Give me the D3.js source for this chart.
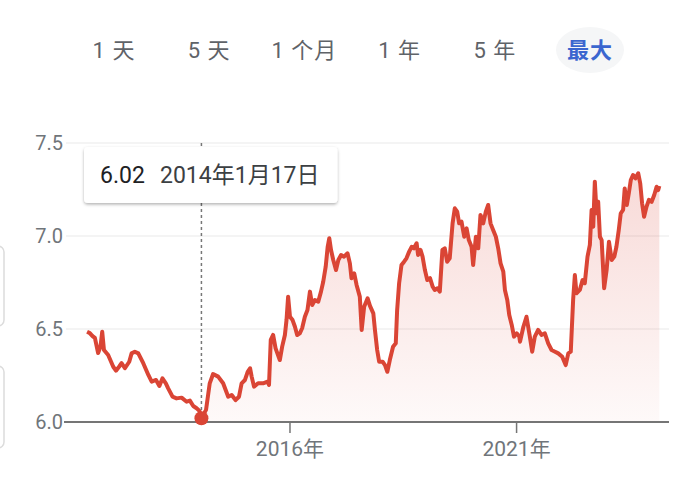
<!DOCTYPE html>
<meta charset="utf-8">
<script src="https://d3js.org/d3.v7.min.js"></script>
<style>
  body { margin: 0; background: #fff; }
  svg { display: block; font-family: Roboto, Arial, "Noto Sans CJK SC", sans-serif; }
</style>
<svg id="vis"></svg>
<script>
    // range buttons
    const tabs = ['1 天', '5 天', '1 个月', '1 年', '5 年', '最大'];
    const activeTab = '最大';

    // USD/CNY
    const dates = [
        '2011-07-10', '2011-08-01', '2011-08-23', '2011-09-11', '2011-10-07', '2011-10-26', '2011-11-09', '2011-11-23',
        '2011-12-27', '2012-02-06', '2012-02-28', '2012-03-24', '2012-04-13', '2012-05-10', '2012-06-14', '2012-07-03',
        '2012-07-29', '2012-08-26', '2012-10-05', '2012-11-15', '2012-12-12', '2013-01-16', '2013-02-12', '2013-03-09',
        '2013-04-05', '2013-04-24', '2013-05-29', '2013-06-30', '2013-08-10', '2013-09-20', '2013-10-16', '2013-11-12',
        '2013-12-09', '2013-12-31', '2014-01-17', '2014-02-23', '2014-03-25', '2014-04-21', '2014-06-01', '2014-07-11',
        '2014-08-21', '2014-09-18', '2014-10-19', '2014-11-16', '2014-12-07', '2015-01-03', '2015-01-25', '2015-02-13',
        '2015-02-26', '2015-03-17', '2015-04-19', '2015-05-29', '2015-07-04', '2015-07-16', '2015-07-30', '2015-08-18',
        '2015-09-07', '2015-10-11', '2015-10-30', '2015-11-21', '2015-12-04', '2015-12-17', '2016-01-01', '2016-01-22',
        '2016-02-10', '2016-02-28', '2016-03-20', '2016-04-08', '2016-04-30', '2016-05-21', '2016-06-10', '2016-06-28',
        '2016-07-20', '2016-08-16', '2016-09-07', '2016-09-25', '2016-10-15', '2016-10-31', '2016-11-13', '2016-11-27',
        '2016-12-15', '2017-01-06', '2017-01-25', '2017-02-16', '2017-03-12', '2017-04-09', '2017-04-28', '2017-05-11',
        '2017-06-02', '2017-06-21', '2017-07-17', '2017-08-01', '2017-08-21', '2017-09-18', '2017-10-07', '2017-11-03',
        '2017-11-16', '2017-12-04', '2017-12-20', '2018-01-17', '2018-02-05', '2018-02-24', '2018-03-16', '2018-04-11',
        '2018-05-03', '2018-05-14', '2018-05-30', '2018-06-18', '2018-07-09', '2018-07-28', '2018-08-19', '2018-09-08',
        '2018-09-26', '2018-10-18', '2018-10-30', '2018-11-19', '2018-12-05', '2018-12-24', '2019-01-12', '2019-02-03',
        '2019-02-25', '2019-03-13', '2019-04-04', '2019-04-23', '2019-05-14', '2019-06-02', '2019-06-21', '2019-07-12',
        '2019-08-04', '2019-08-22', '2019-09-10', '2019-09-26', '2019-10-15', '2019-11-06', '2019-11-25', '2019-12-13',
        '2020-01-04', '2020-01-17', '2020-02-08', '2020-02-27', '2020-03-16', '2020-04-07', '2020-04-28', '2020-05-17',
        '2020-06-05', '2020-06-26', '2020-07-18', '2020-08-06', '2020-08-25', '2020-09-16', '2020-09-29', '2020-10-18',
        '2020-11-03', '2020-11-23', '2020-12-11', '2021-01-02', '2021-01-23', '2021-01-29', '2021-02-25', '2021-03-22',
        '2021-04-18', '2021-05-07', '2021-05-28', '2021-06-24', '2021-07-21', '2021-08-17', '2021-09-13', '2021-10-10',
        '2021-11-07', '2021-12-03', '2022-01-04', '2022-02-01', '2022-02-22', '2022-03-14', '2022-04-02', '2022-04-16',
        '2022-04-29', '2022-05-26', '2022-06-17', '2022-07-05', '2022-07-27', '2022-08-15', '2022-08-29', '2022-09-11',
        '2022-09-24', '2022-10-08', '2022-10-21', '2022-11-04', '2022-11-18', '2022-12-08', '2022-12-28', '2023-01-16',
        '2023-02-07', '2023-02-28', '2023-03-17', '2023-04-05', '2023-04-21', '2023-05-10', '2023-05-23', '2023-06-09',
        '2023-06-25', '2023-07-11', '2023-07-29', '2023-08-18', '2023-09-09', '2023-09-25', '2023-10-10', '2023-10-26',
        '2023-11-15', '2023-12-04', '2023-12-26', '2024-01-16', '2024-02-04', '2024-02-17', '2024-02-26'
    ];
    const rates = [
        6.485, 6.478, 6.462, 6.452, 6.371, 6.405, 6.485, 6.387,
        6.360, 6.297, 6.276, 6.297, 6.316, 6.289, 6.324, 6.369,
        6.378, 6.369, 6.316, 6.253, 6.217, 6.226, 6.194, 6.235,
        6.208, 6.181, 6.136, 6.127, 6.131, 6.109, 6.115, 6.086,
        6.074, 6.061, 6.02, 6.065, 6.208, 6.258, 6.244, 6.208,
        6.136, 6.145, 6.118, 6.136, 6.208, 6.226, 6.270, 6.289,
        6.244, 6.190, 6.208, 6.208, 6.217, 6.199, 6.441, 6.468,
        6.396, 6.333, 6.405, 6.468, 6.548, 6.674, 6.566, 6.548,
        6.512, 6.468, 6.477, 6.504, 6.566, 6.602, 6.701, 6.629,
        6.656, 6.647, 6.701, 6.754, 6.835, 6.942, 6.988, 6.925,
        6.871, 6.817, 6.871, 6.898, 6.889, 6.907, 6.853, 6.773,
        6.799, 6.737, 6.674, 6.495, 6.620, 6.665, 6.624, 6.584,
        6.495, 6.387, 6.324, 6.324, 6.306, 6.270, 6.333, 6.405,
        6.423, 6.602, 6.746, 6.844, 6.862, 6.880, 6.916, 6.942,
        6.934, 6.961, 6.898, 6.925, 6.889, 6.817, 6.763, 6.773,
        6.727, 6.710, 6.719, 6.701, 6.925, 6.934, 6.862, 6.880,
        7.068, 7.149, 7.131, 7.068, 7.077, 6.996, 7.041, 6.978,
        6.942, 6.844, 6.996, 6.934, 7.113, 7.068, 7.131, 7.167,
        7.068, 7.032, 6.996, 6.934, 6.853, 6.808, 6.710, 6.656,
        6.575, 6.522, 6.459, 6.477, 6.459, 6.432, 6.512, 6.566,
        6.459, 6.378, 6.459, 6.495, 6.468, 6.477, 6.423, 6.387,
        6.378, 6.369, 6.351, 6.306, 6.369, 6.378, 6.656, 6.790,
        6.692, 6.710, 6.763, 6.746, 6.889, 6.952, 7.140, 7.050,
        7.292, 7.122, 7.184, 6.996, 6.978, 6.719, 6.817, 6.969,
        6.871, 6.889, 6.942, 7.032, 7.122, 7.140, 7.256, 7.167,
        7.230, 7.301, 7.328, 7.310, 7.337, 7.283, 7.176, 7.104,
        7.158, 7.194, 7.184, 7.220, 7.265, 7.247, 7.269
    ];

    // highlighted point
    const hoverDate = '2014-01-17';
    const hoverLabel = '2014年1月17日';

    const yTicks = [6.0, 6.5, 7.0, 7.5];
    const xTickDates = ['2016-01-01', '2021-01-01'];
    const xTickLabels = ['2016年', '2021年'];

    const width = 696, height = 488;
    const parse = d3.timeParse('%Y-%m-%d');
    const data = dates.map((d, i) => ({date: parse(d), value: rates[i]}));
    const hoverIdx = dates.indexOf(hoverDate);
    const hover = data[hoverIdx];

    const svg = d3.select('#vis')
        .attr('width', width)
        .attr('height', height);

    // faint card edges on the left
    svg.append('rect').attr('x', -20).attr('y', 246).attr('width', 24).attr('height', 80)
        .attr('rx', 6).attr('fill', 'none').attr('stroke', '#dcdcdc').attr('stroke-width', 1.5);
    svg.append('rect').attr('x', -20).attr('y', 366).attr('width', 24).attr('height', 82)
        .attr('rx', 6).attr('fill', 'none').attr('stroke', '#dcdcdc').attr('stroke-width', 1.5);

    // tabs
    const tabX = d3.scalePoint().domain(tabs).range([114, 590]);
    svg.append('ellipse')
        .attr('cx', tabX(activeTab)).attr('cy', 50)
        .attr('rx', 34).attr('ry', 23)
        .attr('fill', '#f5f6f7');
    svg.append('g').selectAll('text')
        .data(tabs)
        .enter()
        .append('text')
        .attr('x', d => tabX(d))
        .attr('y', 58)
        .attr('text-anchor', 'middle')
        .style('font-size', '22px')
        .style('font-weight', d => d === activeTab ? 'bold' : 'normal')
        .style('fill', d => d === activeTab ? '#3b66cf' : '#5f6368')
        .style('letter-spacing', '1px')
        .text(d => d);

    // scales
    const x = d3.scaleTime()
        .domain([new Date(2011, 0, 13), new Date(2024, 4, 14)])
        .range([65, 669]);
    const y = d3.scaleLinear()
        .domain([6.0, 7.5])
        .range([422, 143]);

    // grid lines
    svg.append('g').selectAll('line')
        .data(yTicks.slice(1))
        .enter()
        .append('line')
        .attr('x1', 66).attr('x2', 669)
        .attr('y1', d => y(d)).attr('y2', d => y(d))
        .style('stroke', '#f0f0f0')
        .style('stroke-width', 1.5);

    // y labels
    svg.append('g').selectAll('text')
        .data(yTicks)
        .enter()
        .append('text')
        .attr('x', 63)
        .attr('y', d => y(d) + 7)
        .attr('text-anchor', 'end')
        .style('font-size', '20px')
        .style('fill', '#70757a')
        .text(d => d.toFixed(1));

    // area gradient
    const defs = svg.append('defs');
    const grad = defs.append('linearGradient')
        .attr('id', 'fade')
        .attr('gradientUnits', 'userSpaceOnUse')
        .attr('x1', 0).attr('x2', 0)
        .attr('y1', y(7.35)).attr('y2', y(6.0));
    grad.append('stop').attr('offset', 0).attr('stop-color', '#db4437').attr('stop-opacity', 0.2);
    grad.append('stop').attr('offset', 1).attr('stop-color', '#db4437').attr('stop-opacity', 0.03);

    const shadow = defs.append('filter').attr('id', 'shadow')
        .attr('x', -0.1).attr('y', -0.2).attr('width', 1.2).attr('height', 1.5);
    shadow.append('feDropShadow')
        .attr('dx', 0).attr('dy', 1.5).attr('stdDeviation', 1.8)
        .attr('flood-color', '#000').attr('flood-opacity', 0.3);

    const area = d3.area()
        .x(d => x(d.date))
        .y0(y(6.0))
        .y1(d => y(d.value));
    svg.append('path')
        .datum(data.slice(hoverIdx))
        .attr('d', area)
        .style('fill', 'url(#fade)');

    // x axis
    svg.append('line')
        .attr('x1', 64).attr('x2', 669)
        .attr('y1', y(6.0)).attr('y2', y(6.0))
        .style('stroke', '#757575')
        .style('stroke-width', 2);
    const xt = svg.append('g').selectAll('g')
        .data(xTickDates)
        .enter()
        .append('g')
        .attr('transform', d => 'translate(' + x(parse(d)) + ',0)');
    xt.append('line')
        .attr('y1', y(6.0)).attr('y2', y(6.0) + 11)
        .style('stroke', '#757575')
        .style('stroke-width', 1.5);
    xt.append('text')
        .attr('y', 456)
        .attr('text-anchor', 'middle')
        .style('font-size', '21px')
        .style('fill', '#70757a')
        .text((d, i) => xTickLabels[i]);

    // price line
    const line = d3.line()
        .x(d => x(d.date))
        .y(d => y(d.value));
    svg.append('path')
        .datum(data)
        .attr('d', line)
        .style('fill', 'none')
        .style('stroke', '#da4535')
        .style('stroke-width', 4)
        .style('stroke-linejoin', 'round');

    // hover marker
    const hx = x(hover.date);
    svg.append('line')
        .attr('x1', hx).attr('x2', hx)
        .attr('y1', y(7.5)).attr('y2', y(hover.value))
        .style('stroke', '#777')
        .style('stroke-width', 1.5)
        .style('stroke-dasharray', '3,3');
    svg.append('circle')
        .attr('cx', hx).attr('cy', y(hover.value))
        .attr('r', 7)
        .style('fill', '#da4535');

    // tooltip
    const tip = svg.append('g');
    const box = tip.append('rect')
        .attr('x', 84).attr('y', 147)
        .attr('height', 56).attr('rx', 4)
        .style('fill', '#fff')
        .attr('filter', 'url(#shadow)');
    tip.append('text')
        .attr('x', 100).attr('y', 183)
        .style('font-size', '23px')
        .style('fill', '#202124')
        .text(hover.value.toFixed(2));
    const dt = tip.append('text')
        .attr('x', 160).attr('y', 183)
        .style('font-size', '23px')
        .style('fill', '#3c4043')
        .text(hoverLabel);
    const bb = dt.node().getBBox();
    box.attr('width', bb.x + bb.width + 18 - 84);
</script>
